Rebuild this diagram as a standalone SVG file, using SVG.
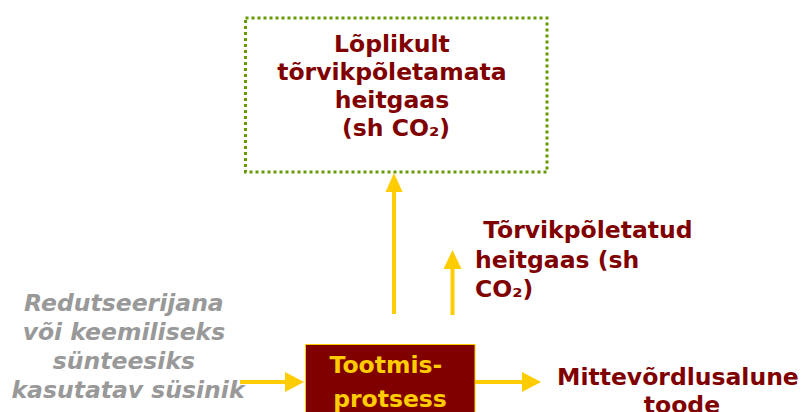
<svg xmlns="http://www.w3.org/2000/svg" width="806" height="412" viewBox="0 0 806 412">
  <defs>
    <style>
      .lbl { font-family: "DejaVu Sans", Verdana, sans-serif; font-weight: bold; font-size: 23.5px; }
      .red { fill: #800000; }
      .gold { fill: #FFCC00; }
      .grey { fill: #999999; font-style: italic; }
      .flow { stroke: #FFCC00; stroke-width: 4; fill: none; }
      .head { fill: #FFCC00; }
    </style>
  </defs>

  <!-- emission box (dotted outline) -->
  <g id="node-emission">
    <rect x="245.5" y="18" width="301.5" height="154" fill="none" stroke="#669900" stroke-width="3" stroke-dasharray="3 3"/>
    <text class="lbl red" text-anchor="middle">
      <tspan x="396" y="52">Lõplikult</tspan>
      <tspan x="396" y="80">tõrvikpõletamata</tspan>
      <tspan x="396" y="108">heitgaas</tspan>
      <tspan x="396" y="136">(sh CO₂)</tspan>
    </text>
  </g>

  <!-- production process -->
  <g id="node-process">
    <rect x="305.5" y="344.5" width="169.5" height="80" fill="#800000" stroke="#FFCC00" stroke-width="1"/>
    <text class="lbl gold" text-anchor="middle">
      <tspan x="390" y="373">Tootmis-</tspan>
      <tspan x="390" y="407">protsess</tspan>
    </text>
  </g>

  <!-- carbon input -->
  <g id="node-input">
    <text class="lbl grey" text-anchor="middle">
      <tspan x="128" y="311">Redutseerijana</tspan>
      <tspan x="128" y="340">või keemiliseks</tspan>
      <tspan x="128" y="369">sünteesiks</tspan>
      <tspan x="128" y="398">kasutatav süsinik</tspan>
    </text>
  </g>

  <!-- flared gas -->
  <g id="node-flared">
    <text class="lbl red" xml:space="preserve">
      <tspan x="475" y="238"> Tõrvikpõletatud</tspan>
      <tspan x="475" y="268">heitgaas (sh</tspan>
      <tspan x="475" y="297">CO₂)</tspan>
    </text>
  </g>

  <!-- product -->
  <g id="node-product">
    <text class="lbl red" text-anchor="middle">
      <tspan x="682" y="385">Mittevõrdlusalune</tspan>
      <tspan x="682" y="413">toode</tspan>
    </text>
  </g>

  <!-- connectors -->
  <g id="connectors">
    <line class="flow" x1="394" y1="314" x2="394" y2="190"/>
    <polygon class="head" points="385.5,192 402.5,192 394,173"/>

    <line class="flow" x1="452.5" y1="315" x2="452.5" y2="266"/>
    <polygon class="head" points="443.5,269 461.5,269 452.5,250"/>

    <line class="flow" x1="240" y1="382" x2="288" y2="382"/>
    <polygon class="head" points="285,372 285,392 304,382"/>

    <line class="flow" x1="475" y1="382" x2="524" y2="382"/>
    <polygon class="head" points="522,372 522,392 541,382"/>
  </g>
</svg>
